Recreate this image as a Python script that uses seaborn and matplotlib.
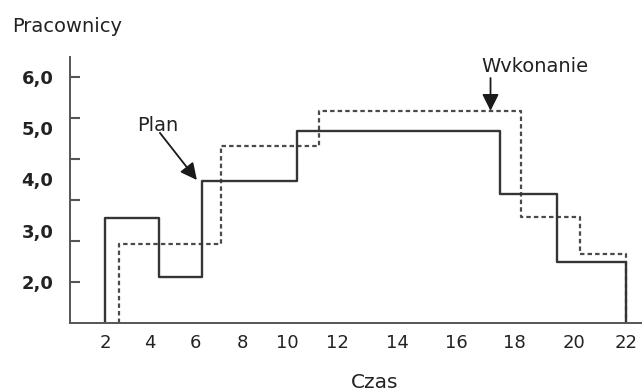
import numpy as np
import pandas as pd
import matplotlib
matplotlib.use("Agg")
import matplotlib.pyplot as plt
import seaborn as sns

# zatrudnienie w czasie: plan i wykonanie (poziomy schodków)
CZAS_PLAN = [2, 4.4, 6.3, 10.4, 17.5, 19.4, 22]
PLAN = [3.25, 2.1, 3.97, 4.95, 3.72, 2.39]
CZAS_WYK = [2.6, 7.1, 11.25, 18.2, 20.2, 22]
WYKONANIE = [2.74, 4.65, 5.34, 3.27, 2.55]

X_TICKS = [2, 4, 6, 8, 10, 12, 14, 16, 18, 20, 22]
Y_TICKS = [2, 3, 4, 5, 6]
Y_LABELS = ["2,0", "3,0", "4,0", "5,0", "6,0"]

# os X na oryginale jest narysowana nierowno - odstepy podzialki (px)
X_TICK_PIX = [105, 150, 195, 243, 287, 338, 398, 457, 515, 575, 627]
BASE = 1.2
TOP = 6.39


def step_frame(czas, levels):
    x = [czas[0]] + list(czas)
    y = [BASE] + list(levels) + [BASE]
    return pd.DataFrame({"Czas": x, "Pracownicy": y})


knots_x = [0] + X_TICKS + [24]
knots_p = [X_TICK_PIX[0] - 2 * 22.5] + X_TICK_PIX + [X_TICK_PIX[-1] + 2 * 26]


def fwd(x):
    return np.interp(x, knots_x, knots_p)


def inv(p):
    return np.interp(p, knots_p, knots_x)


def main():
    sns.set_style("white")
    plt.rcParams["font.family"] = ["DejaVu Sans"]

    fig = plt.figure(figsize=(6.42, 3.91), dpi=100)
    ax = fig.add_axes([70 / 642, 1 - 323 / 391, 572 / 642, 266 / 391])
    ax.set_xscale("function", functions=(fwd, inv))

    sns.lineplot(data=step_frame(CZAS_WYK, WYKONANIE), x="Czas", y="Pracownicy",
                 estimator=None, sort=False, drawstyle="steps-post",
                 color="#4a4a4a", lw=1.6, linestyle=(0, (2.0, 1.4)), ax=ax)
    sns.lineplot(data=step_frame(CZAS_PLAN, PLAN), x="Czas", y="Pracownicy",
                 estimator=None, sort=False, drawstyle="steps-post",
                 color="#353535", lw=1.7, ax=ax)

    ax.set_xlim(0.44, 22.6)
    ax.set_ylim(BASE, TOP)

    for s in ["top", "right"]:
        ax.spines[s].set_visible(False)
    for s in ["left", "bottom"]:
        ax.spines[s].set_color("#555555")
        ax.spines[s].set_linewidth(1.4)

    ax.set_xticks(X_TICKS)
    ax.set_xticklabels([str(t) for t in X_TICKS])
    ax.tick_params(axis="x", length=0, pad=8, labelsize=13, labelcolor="#222222")
    ax.set_xticks([], minor=True)

    ax.set_yticks(Y_TICKS)
    ax.set_yticklabels(Y_LABELS, fontweight="bold")
    ax.tick_params(axis="y", which="major", left=True, length=0, pad=12,
                   labelsize=13, labelcolor="#222222")
    # kreski podzialki sa rowno rozstawione, niezaleznie od opisow
    ax.yaxis.remove_overlapping_locs = False
    ax.set_yticks(np.arange(2.0, 6.01, 0.8), minor=True)
    ax.tick_params(axis="y", which="minor", left=True, direction="in", length=7.5,
                   width=1.5, color="#555555")

    ax.set_xlabel("Czas", fontsize=14.5, color="#222222", va="center")
    ax.xaxis.set_label_coords(0.533, -0.222)
    ax.set_ylabel("")
    fig.text(12 / 642, 1 - 27 / 391, "Pracownicy", fontsize=14, color="#222222",
             va="center", ha="left")

    arrow = dict(arrowstyle="-|>,head_length=0.5,head_width=0.25", color="#1a1a1a",
                 lw=1.3, mutation_scale=20, shrinkA=0, shrinkB=0)
    ax.text(4.35, 5.06, "Plan", fontsize=14, ha="center", va="center", color="#222222")
    ax.annotate("", xy=(6.08, 3.99), xytext=(4.44, 4.91), arrowprops=arrow)
    ax.text(18.67, 6.2, "Wvkonanie", fontsize=14, ha="center", va="center",
            color="#222222")
    ax.annotate("", xy=(17.17, 5.34), xytext=(17.17, 5.98), arrowprops=arrow)

    fig.savefig("out.png", dpi=100)


if __name__ == "__main__":
    main()
